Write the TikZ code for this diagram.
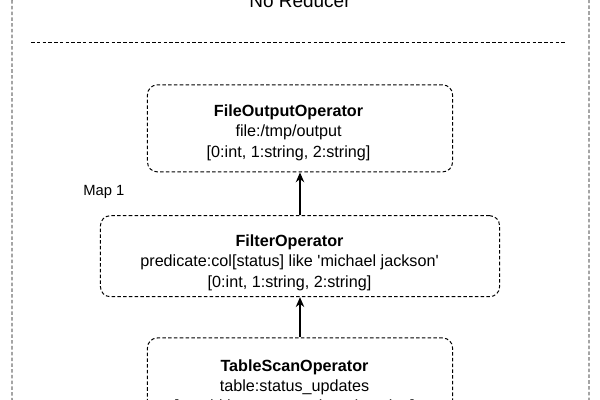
\documentclass[tikz,border=0pt]{standalone}
\usepackage{fontspec}
\setmainfont{Liberation Sans}
\usetikzlibrary{arrows.meta}
% #1 top strut, #2 room kept on the right, #3 title, #4-#5 detail lines
\newcommand{\opinfo}[5]{%
    \begin{tabular}{@{}c@{}}\rule{0pt}{#1}\textbf{#3}\\{}#4\\{}#5\end{tabular}\hspace*{#2}%
}
\tikzset{
    dashline/.style={dash pattern=on 2.5pt off 1.6pt, line width=0.7pt},
    opbox/.style={draw, dashline, rounded corners=7pt,
        inner sep=0pt, font=\fontsize{11.5}{14.5}\selectfont},
    flow/.style={-{Stealth[length=7pt, width=6pt]}, line width=1pt}
}
\begin{document}
\begin{tikzpicture}[x=0.025cm, y=-0.025cm]
    \clip (0,0) rectangle (600,400);
    \draw[dashline, rounded corners=10pt] (12,-14) rectangle (589,414);
    \node[anchor=base, font=\fontsize{13.5}{16}\selectfont] (reducer) at (300,8) {No Reducer};
    \coordinate (sepl) at (31,42);
    \coordinate (sepr) at (565,42);
    \draw[dashline] (sepl) -- (sepr);
    \node[opbox, minimum width=7.625cm, minimum height=2.175cm] (fileout) at (300,128.4)
        {\opinfo{16.4pt}{16.3pt}{FileOutputOperator}{file:/tmp/output}{[0:int, 1:string, 2:string]}};
    \node[anchor=west, inner sep=0pt, font=\fontsize{10.5}{13}\selectfont] (map) at (83,192) {Map 1};
    \node[opbox, minimum width=9.975cm, minimum height=2.025cm] (filter) at (300,256.2)
        {\opinfo{19.2pt}{14.9pt}{FilterOperator}{predicate:col[status] like \textquotesingle michael jackson\textquotesingle}{[0:int, 1:string, 2:string]}};
    \node[opbox, minimum width=7.625cm, minimum height=2.175cm] (tablescan) at (300,381.5)
        {\opinfo{18.7pt}{7.8pt}{TableScanOperator}{table:status\_updates}{[userid:int, status:string, ds:string]}};
    \draw[flow] (filter) -- (fileout);
    \draw[flow] (tablescan) -- (filter);
\end{tikzpicture}
\end{document}
